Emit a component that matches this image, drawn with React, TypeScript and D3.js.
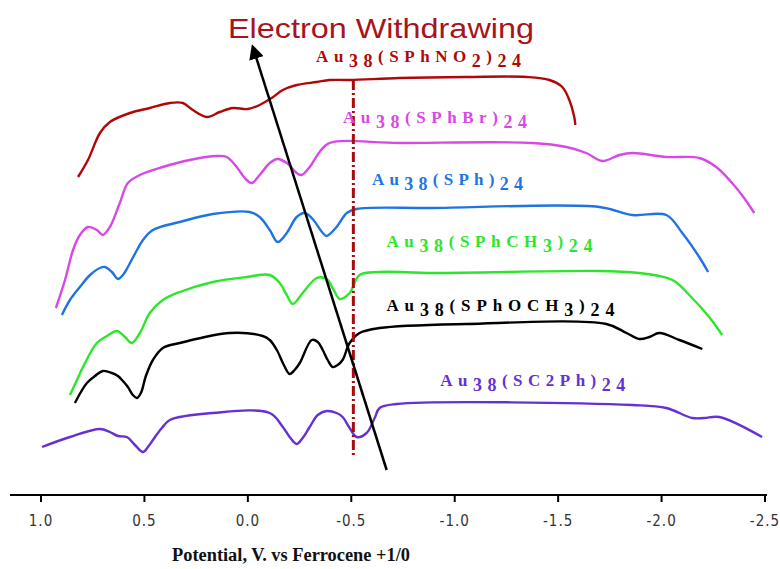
import React from 'react';
import * as d3 from 'd3';

// potential (V vs Fc+/0) and current (a.u., offset per trace)
type Pt = [number, number];

const sphno2: Pt[] = [
  [0.821, 31.8], [0.773, 33.5], [0.715, 36.2], [0.667, 37.3], [0.570, 38.2], [0.474, 38.7],
  [0.377, 39.2], [0.314, 39.2], [0.266, 38.5], [0.198, 37.8], [0.136, 38.3], [0.073, 38.7],
  [0.0, 38.6], [-0.057, 39.0], [-0.115, 39.7], [-0.169, 40.5], [-0.236, 41.0], [-0.333, 41.3],
  [-0.395, 41.5], [-0.492, 41.5], [-0.733, 41.7], [-1.057, 41.8], [-1.347, 41.8], [-1.458, 41.5],
  [-1.520, 40.8], [-1.554, 39.5], [-1.578, 37.8], [-1.583, 37.0],
];

const sphbr: Pt[] = [
  [0.928, 18.7], [0.884, 21.5], [0.845, 24.5], [0.812, 26.0], [0.773, 26.8], [0.730, 26.5],
  [0.701, 26.0], [0.667, 26.8], [0.619, 29.2], [0.580, 31.2], [0.522, 32.0], [0.411, 32.8],
  [0.281, 33.5], [0.150, 33.9], [0.102, 33.8], [0.054, 32.8], [0.015, 31.7], [-0.019, 31.2],
  [-0.057, 32.0], [-0.106, 33.2], [-0.144, 33.6], [-0.188, 33.2], [-0.236, 32.2], [-0.260, 32.0],
  [-0.299, 32.8], [-0.347, 34.3], [-0.395, 35.2], [-0.733, 35.2], [-1.376, 35.2], [-1.540, 34.8],
  [-1.636, 34.2], [-1.714, 33.4], [-1.796, 34.0], [-1.859, 34.2], [-2.023, 33.8], [-2.182, 33.7],
  [-2.264, 32.8], [-2.341, 31.2], [-2.399, 29.7], [-2.448, 28.2],
];

const sph: Pt[] = [
  [0.899, 18.0], [0.860, 19.5], [0.812, 20.8], [0.763, 22.0], [0.715, 22.7], [0.691, 22.8],
  [0.657, 22.3], [0.628, 21.6], [0.604, 22.0], [0.580, 22.8], [0.536, 24.5], [0.507, 25.5],
  [0.459, 26.5], [0.329, 27.3], [0.169, 28.1], [-0.009, 28.3], [-0.057, 27.8], [-0.106, 26.5],
  [-0.144, 25.3], [-0.188, 26.2], [-0.236, 27.8], [-0.275, 28.2], [-0.313, 27.6], [-0.362, 26.2],
  [-0.381, 25.9], [-0.429, 26.8], [-0.478, 28.2], [-0.526, 28.6], [-0.893, 28.7], [-1.699, 28.8],
  [-1.859, 28.0], [-2.023, 28.0], [-2.100, 26.2], [-2.182, 23.8], [-2.225, 22.3],
];

const sphch3: Pt[] = [
  [0.860, 10.0], [0.826, 11.5], [0.797, 12.8], [0.730, 15.2], [0.681, 15.9], [0.633, 16.4],
  [0.594, 15.8], [0.561, 15.2], [0.522, 16.2], [0.474, 18.2], [0.411, 19.5], [0.329, 20.3],
  [0.169, 21.3], [0.005, 21.8], [-0.106, 22.0], [-0.154, 21.2], [-0.188, 20.0], [-0.217, 19.1],
  [-0.265, 20.2], [-0.333, 21.7], [-0.381, 21.6], [-0.415, 20.5], [-0.444, 19.6], [-0.492, 20.2],
  [-0.540, 22.0], [-0.637, 22.3], [-0.893, 22.2], [-1.699, 22.4], [-1.892, 22.2], [-1.989, 21.9],
  [-2.061, 21.4], [-2.134, 20.0], [-2.230, 17.8], [-2.293, 16.0],
];

const sphoch3: Pt[] = [
  [0.836, 9.2], [0.807, 10.3], [0.778, 11.2], [0.739, 11.9], [0.701, 12.4], [0.657, 12.2],
  [0.628, 11.9], [0.604, 11.4], [0.580, 10.8], [0.556, 10.0], [0.536, 9.7], [0.517, 10.2],
  [0.493, 11.9], [0.459, 13.5], [0.411, 14.7], [0.329, 15.2], [0.087, 16.2], [-0.072, 15.9],
  [-0.106, 15.5], [-0.140, 14.5], [-0.174, 13.0], [-0.202, 12.1], [-0.226, 12.5], [-0.251, 13.2],
  [-0.309, 15.5], [-0.338, 15.3], [-0.362, 14.5], [-0.386, 13.5], [-0.410, 12.8], [-0.434, 13.0],
  [-0.458, 13.5], [-0.492, 15.2], [-0.540, 16.2], [-0.637, 16.7], [-1.057, 17.1], [-1.733, 17.1],
  [-1.830, 16.2], [-1.892, 15.6], [-1.941, 15.8], [-1.989, 16.2], [-2.086, 15.5], [-2.197, 14.6],
];

const sc2ph: Pt[] = [
  [0.995, 4.8], [0.860, 5.8], [0.715, 6.6], [0.667, 6.3], [0.628, 5.9], [0.585, 5.8],
  [0.546, 5.0], [0.507, 4.3], [0.483, 4.8], [0.459, 5.5], [0.416, 6.7], [0.377, 7.5],
  [0.169, 8.2], [-0.106, 8.2], [-0.169, 6.8], [-0.202, 5.8], [-0.236, 5.1], [-0.265, 5.7],
  [-0.299, 6.8], [-0.338, 8.0], [-0.381, 8.4], [-0.429, 8.2], [-0.458, 7.8], [-0.492, 6.7],
  [-0.526, 5.8], [-0.574, 6.2], [-0.613, 7.7], [-0.637, 8.7], [-0.719, 9.1], [-1.859, 9.0],
  [-2.023, 8.7], [-2.148, 7.7], [-2.206, 7.7], [-2.279, 7.8], [-2.486, 5.8],
];

const seriesNames = ['SPhNO2', 'SPhBr', 'SPh', 'SPhCH3', 'SPhOCH3', 'SC2Ph'];
const seriesColors = ['#b00808', '#d848e6', '#1f74e4', '#2ce62c', '#000000', '#6530d4'];
const seriesData = [sphno2, sphbr, sph, sphch3, sphoch3, sc2ph];
// label parts: [text, isSubscript]
const labelParts: [string, boolean][][] = [
  [['Au', false], ['38', true], ['(SPhNO', false], ['2', true], [')', false], ['24', true]],
  [['Au', false], ['38', true], ['(SPhBr)', false], ['24', true]],
  [['Au', false], ['38', true], ['(SPh)', false], ['24', true]],
  [['Au', false], ['38', true], ['(SPhCH', false], ['3', true], [')', false], ['24', true]],
  [['Au', false], ['38', true], ['(SPhOCH', false], ['3', true], [')', false], ['24', true]],
  [['Au', false], ['38', true], ['(SC2Ph)', false], ['24', true]],
];
const labelAt: [number, number][] = [
  [-0.33, 43.3], [-0.46, 37.2], [-0.6, 31.0], [-0.67, 24.8], [-0.67, 18.4], [-0.93, 10.9],
];
const labelWidths = [205, 184, 151, 206, 228, 185];

const xTicks = [1.0, 0.5, 0.0, -0.5, -1.0, -1.5, -2.0, -2.5];
const refPotential = -0.51; // dash-dot marker
const arrowFrom: Pt = [-0.671, 2.5];
const arrowTo: Pt = [-0.024, 44.8];

const W = 780;
const H = 569;

export default function App() {
  const x = d3.scaleLinear().domain([1.0, -2.5]).range([41, 765]);
  const y = d3.scaleLinear().domain([0, 49.5]).range([495, 0]);
  const line = d3
    .line<Pt>()
    .x((d) => x(d[0]))
    .y((d) => y(d[1]))
    .curve(d3.curveCatmullRom.alpha(0.5));

  return (
    <svg width={W} height={H} style={{ position: 'absolute', left: 0, top: 0, background: '#fff' }}>
      <defs>
        <marker id="ah" viewBox="0 0 10 10" refX="8" refY="5" markerWidth="6" markerHeight="6" orient="auto">
          <path d="M0,0 L10,5 L0,10 z" fill="#000" />
        </marker>
      </defs>

      {/* axis */}
      <line x1={10} x2={767} y1={y(0)} y2={y(0)} stroke="#000" strokeWidth={2} />
      {xTicks.map((t) => (
        <g key={t} transform={`translate(${x(t)},${y(0)})`}>
          <line y1={0} y2={7} stroke="#000" strokeWidth={2} />
          <text
            y={31}
            textAnchor="middle"
            fontFamily="'Liberation Sans Narrow', 'DejaVu Sans Condensed', sans-serif"
            fontSize={15}
            letterSpacing={1}
            fill="#333"
          >
            {d3.format('.1f')(t).replace('−', '-')}
          </text>
        </g>
      ))}
      <text
        x={172}
        y={561}
        fontFamily="'Liberation Serif', serif"
        fontWeight="bold"
        fontSize={18}
        textLength={238}
        lengthAdjust="spacingAndGlyphs"
        fill="#111"
      >
        Potential, V. vs Ferrocene +1/0
      </text>

      {/* traces */}
      {seriesData.map((d, i) => (
        <path key={seriesNames[i]} d={line(d) || ''} fill="none" stroke={seriesColors[i]} strokeWidth={2.4} />
      ))}

      {/* dash-dot reference */}
      <line
        x1={x(refPotential)}
        x2={x(refPotential)}
        y1={y(41.5)}
        y2={y(4.0)}
        stroke="#a80c0c"
        strokeWidth={3}
        strokeDasharray="10,3,2,3"
      />

      {/* arrow */}
      <line
        x1={x(arrowFrom[0])}
        y1={y(arrowFrom[1])}
        x2={x(arrowTo[0])}
        y2={y(arrowTo[1])}
        stroke="#000"
        strokeWidth={2.5}
        markerEnd="url(#ah)"
      />
      <text
        x={228}
        y={38}
        fontFamily="'Liberation Sans', Arial, sans-serif"
        fontSize={28}
        textLength={306}
        lengthAdjust="spacingAndGlyphs"
        fill="#a8141c"
      >
        Electron Withdrawing
      </text>

      {/* series labels */}
      {labelParts.map((parts, i) => {
        let level = 0;
        return (
          <text
            key={seriesNames[i]}
            x={x(labelAt[i][0])}
            y={y(labelAt[i][1])}
            fontFamily="'Liberation Serif', 'Times New Roman', serif"
            fontWeight="bold"
            fontSize={17}
            fill={seriesColors[i]}
            textLength={labelWidths[i]}
            lengthAdjust="spacing"
          >
            {parts.map(([s, sub], j) => {
              const dy = (sub ? 5 : 0) - level;
              level = sub ? 5 : 0;
              return (
                <tspan key={j} dy={dy} fontSize={sub ? 18 : 17}>
                  {s}
                </tspan>
              );
            })}
          </text>
        );
      })}
    </svg>
  );
}
